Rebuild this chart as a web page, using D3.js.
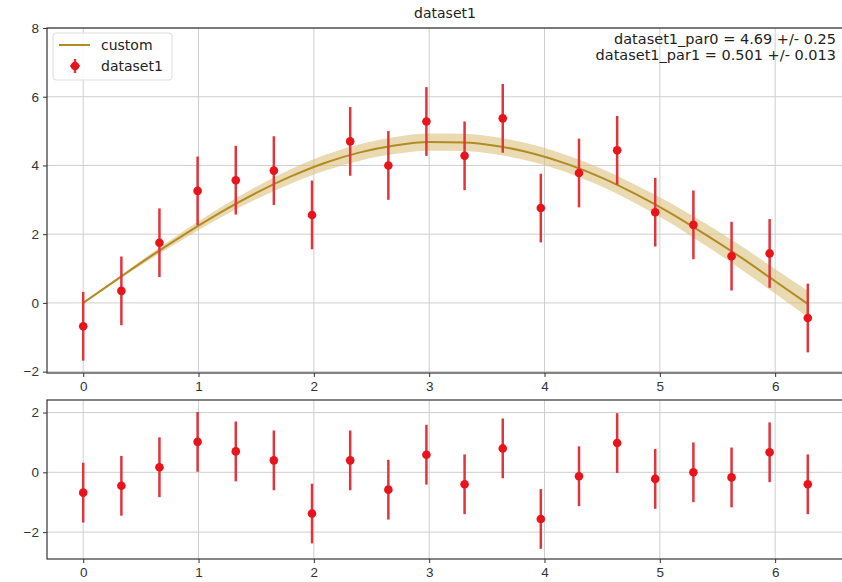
<!DOCTYPE html>
<html lang="en">
<head>
  <meta charset="UTF-8">
  <title>dataset1 fit</title>
  <script src="https://d3js.org/d3.v7.min.js"></script>
  <style>
    body { margin: 0; background: #fff; }
    svg { display: block; font-family: "DejaVu Sans", sans-serif; }
    .grid line { stroke: #cfcfcf; stroke-width: 1; }
    .axis path, .axis line { stroke: #333; }
    .axis text { fill: #333; font-size: 13.5px; }
  </style>
</head>
<body>
  <svg id="chart" width="842" height="582"></svg>

  <script>
    // measured points (20 samples between 0 and 2*pi)
    const xVals = [0, 0.331, 0.661, 0.992, 1.323, 1.653, 1.984, 2.315, 2.646, 2.976,
                   3.307, 3.638, 3.968, 4.299, 4.630, 4.960, 5.291, 5.622, 5.952, 6.283];
    const yVals = [-0.68, 0.35, 1.75, 3.26, 3.57, 3.85, 2.56, 4.70, 4.00, 5.28,
                   4.28, 5.37, 2.76, 3.78, 4.44, 2.64, 2.27, 1.36, 1.44, -0.44];
    const yErr = [1, 1, 1, 1, 1, 1, 1, 1, 1, 1, 1, 1, 1, 1, 1, 1, 1, 1, 1, 1];
    const resid = [-0.68, -0.45, 0.17, 1.02, 0.70, 0.40, -1.38, 0.40, -0.58, 0.59,
                   -0.40, 0.80, -1.56, -0.13, 0.98, -0.22, 0.00, -0.17, 0.67, -0.40];

    // fitted curve and its uncertainty band
    const fitX = [0, 0.3, 0.6, 0.9, 1.2, 1.5, 1.8, 2.1, 2.4, 2.7, 3.0, 3.3,
                  3.6, 3.9, 4.2, 4.5, 4.8, 5.1, 5.4, 5.7, 6.0, 6.283];
    const fitY = [0, 0.70, 1.39, 2.04, 2.65, 3.20, 3.68, 4.08, 4.38, 4.58, 4.68, 4.67,
                  4.56, 4.35, 4.04, 3.64, 3.15, 2.60, 1.98, 1.33, 0.63, -0.03];
    const fitErr = [0, 0.04, 0.08, 0.12, 0.15, 0.18, 0.21, 0.23, 0.24, 0.25, 0.25, 0.25,
                    0.25, 0.25, 0.25, 0.26, 0.27, 0.29, 0.32, 0.34, 0.36, 0.38];

    const xTicks = [0, 1, 2, 3, 4, 5, 6];
    const yTicksTop = [-2, 0, 2, 4, 6, 8];
    const yTicksBottom = [-2, 0, 2];

    const title = "dataset1";
    const parText = ["dataset1_par0 = 4.69 +/- 0.25", "dataset1_par1 = 0.501 +/- 0.013"];

    const svg = d3.select("#chart");
    const left = 47, right = 844;

    const x = d3.scaleLinear().domain([-0.314, 6.597]).range([left, right]);
    const yTop = d3.scaleLinear().domain([-2.04, 8]).range([373, 28]);
    const yBot = d3.scaleLinear().domain([-2.9, 2.42]).range([559, 400]);

    const pointColor = "#e8141c";
    const barColor = "#e0353b";
    const lineColor = "#b38b24";
    const bandColor = "#dcc27e";

    function panel(yScale, yTicks, top, bottom) {
      const g = svg.append("g");
      const grid = g.append("g").attr("class", "grid");
      grid.selectAll(".gx").data(xTicks).enter().append("line")
        .attr("x1", d => x(d)).attr("x2", d => x(d))
        .attr("y1", top).attr("y2", bottom);
      grid.selectAll(".gy").data(yTicks).enter().append("line")
        .attr("x1", left).attr("x2", right)
        .attr("y1", d => yScale(d)).attr("y2", d => yScale(d));
      return g;
    }

    function axes(g, yScale, yTicks, top, bottom) {
      g.append("g").attr("class", "axis")
        .attr("transform", `translate(0,${bottom})`)
        .call(d3.axisBottom(x).tickValues(xTicks).tickSize(4).tickPadding(4).tickFormat(d3.format("d")))
        .call(a => a.select(".domain").remove());
      g.append("g").attr("class", "axis")
        .attr("transform", `translate(${left},0)`)
        .call(d3.axisLeft(yScale).tickValues(yTicks).tickSize(4).tickPadding(4).tickFormat(d3.format("d")))
        .call(a => a.select(".domain").remove());
      g.append("rect")
        .attr("x", left).attr("y", top)
        .attr("width", right - left).attr("height", bottom - top)
        .attr("fill", "none").attr("stroke", "#333").attr("stroke-width", 1.2);
    }

    function errorPoints(g, ys, yScale) {
      const idx = d3.range(xVals.length);
      g.selectAll(".eb").data(idx).enter().append("line")
        .attr("x1", i => x(xVals[i])).attr("x2", i => x(xVals[i]))
        .attr("y1", i => yScale(ys[i] - yErr[i])).attr("y2", i => yScale(ys[i] + yErr[i]))
        .attr("stroke", barColor).attr("stroke-width", 2.5);
      g.selectAll(".pt").data(idx).enter().append("circle")
        .attr("cx", i => x(xVals[i])).attr("cy", i => yScale(ys[i]))
        .attr("r", 4.3).attr("fill", pointColor);
    }

    // top panel
    const gTop = panel(yTop, yTicksTop, 28, 373);
    const fitIdx = d3.range(fitX.length);
    gTop.append("path")
      .datum(fitIdx)
      .attr("d", d3.area()
        .x(i => x(fitX[i]))
        .y0(i => yTop(fitY[i] - fitErr[i]))
        .y1(i => yTop(fitY[i] + fitErr[i]))
        .curve(d3.curveMonotoneX))
      .attr("fill", bandColor).attr("opacity", 0.6);
    gTop.append("path")
      .datum(fitIdx)
      .attr("d", d3.line().x(i => x(fitX[i])).y(i => yTop(fitY[i])).curve(d3.curveMonotoneX))
      .attr("fill", "none").attr("stroke", lineColor).attr("stroke-width", 2);
    errorPoints(gTop, yVals, yTop);
    axes(gTop, yTop, yTicksTop, 28, 373);

    svg.append("text").attr("x", 445).attr("y", 18)
      .attr("text-anchor", "middle").attr("font-size", 14).attr("fill", "#222")
      .text(title);

    svg.selectAll(".par").data(parText).enter().append("text")
      .attr("x", 836).attr("y", (d, i) => 44 + i * 15.5)
      .attr("text-anchor", "end").attr("font-size", 14.5).attr("fill", "#222")
      .text(d => d);

    // legend
    const lg = svg.append("g");
    lg.append("rect").attr("x", 53).attr("y", 33).attr("width", 119).attr("height", 47)
      .attr("rx", 3).attr("fill", "#fff").attr("fill-opacity", 0.85)
      .attr("stroke", "#ddd");
    lg.append("line").attr("x1", 59).attr("x2", 90).attr("y1", 45).attr("y2", 45)
      .attr("stroke", lineColor).attr("stroke-width", 2);
    lg.append("text").attr("x", 101).attr("y", 50).attr("font-size", 14).attr("fill", "#222").text("custom");
    lg.append("line").attr("x1", 75).attr("x2", 75).attr("y1", 59).attr("y2", 73)
      .attr("stroke", barColor).attr("stroke-width", 2.5);
    lg.append("line").attr("x1", 70).attr("x2", 80).attr("y1", 66).attr("y2", 66)
      .attr("stroke", barColor).attr("stroke-width", 1.5);
    lg.append("circle").attr("cx", 75).attr("cy", 66).attr("r", 4.3).attr("fill", pointColor);
    lg.append("text").attr("x", 101).attr("y", 71).attr("font-size", 14).attr("fill", "#222").text("dataset1");

    // bottom panel: residuals
    const gBot = panel(yBot, yTicksBottom, 400, 559);
    errorPoints(gBot, resid, yBot);
    axes(gBot, yBot, yTicksBottom, 400, 559);
  </script>
</body>
</html>
